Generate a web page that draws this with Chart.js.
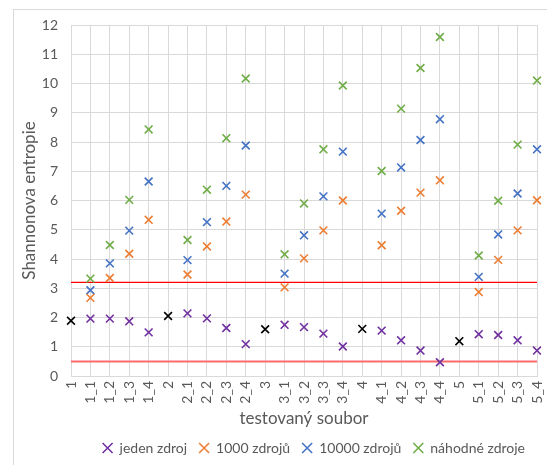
<!DOCTYPE html>
<html>
<head>
<meta charset="utf-8">
<script src="https://cdn.jsdelivr.net/npm/chart.js@4"></script>
<style>
  html, body { margin: 0; padding: 0; background: #fff; }
  #wrap { position: relative; width: 547px; height: 465px; }
  #frame { position: absolute; left: 13px; top: 9px; width: 600px; height: 500px; border: 1px solid #d9d9d9; }
  canvas { position: absolute; left: 0; top: 0; }
</style>
</head>
<body>
<div id="wrap">
  <div id="frame"></div>
  <canvas id="chart" width="547" height="465"></canvas>
</div>
<script>
const labels = ['1', '1_1', '1_2', '1_3', '1_4', '2', '2_1', '2_2', '2_3', '2_4',
  '3', '3_1', '3_2', '3_3', '3_4', '4', '4_1', '4_2', '4_3', '4_4',
  '5', '5_1', '5_2', '5_3', '5_4'];

// value of the whole file (black, not in legend)
const celySoubor = [1.89, null, null, null, null, 2.05, null, null, null, null,
  1.60, null, null, null, null, 1.61, null, null, null, null,
  1.19, null, null, null, null];

const jedenZdroj = [null, 1.96, 1.96, 1.87, 1.49, null, 2.14, 1.97, 1.64, 1.09,
  null, 1.75, 1.67, 1.45, 1.01, null, 1.55, 1.22, 0.87, 0.47,
  null, 1.43, 1.40, 1.22, 0.87];

const zdroju1000 = [null, 2.67, 3.35, 4.18, 5.34, null, 3.47, 4.43, 5.28, 6.20,
  null, 3.03, 4.02, 4.98, 6.00, null, 4.47, 5.65, 6.27, 6.69,
  null, 2.87, 3.97, 4.98, 6.01];

const zdroju10000 = [null, 2.93, 3.85, 4.97, 6.65, null, 3.96, 5.26, 6.50, 7.88,
  null, 3.50, 4.81, 6.14, 7.67, null, 5.55, 7.13, 8.07, 8.78,
  null, 3.39, 4.84, 6.24, 7.75];

const nahodneZdroje = [null, 3.33, 4.48, 6.02, 8.43, null, 4.65, 6.37, 8.13, 10.17,
  null, 4.16, 5.90, 7.75, 9.93, null, 7.01, 9.14, 10.53, 11.59,
  null, 4.12, 5.99, 7.91, 10.10];

// reference levels
const horniHranice = 3.2;
const dolniHranice = 0.5;

const yTicks = [0, 1, 2, 3, 4, 5, 6, 7, 8, 9, 10, 11, 12];

const font = "Lato, 'Liberation Sans', sans-serif";
const gray = '#595959';

function bod(label, data, color) {
  return {
    label: label,
    data: data,
    showLine: false,
    pointStyle: 'crossRot',
    pointRadius: 5.5,
    pointHoverRadius: 5.5,
    pointBorderWidth: 1.6,
    borderColor: color,
    backgroundColor: color
  };
}

function cara(value, color, width) {
  return {
    label: '_line',
    data: labels.map(() => value),
    borderColor: color,
    borderWidth: width,
    pointRadius: 0,
    pointHoverRadius: 0,
    fill: false,
    order: 10
  };
}

new Chart(document.getElementById('chart'), {
  type: 'line',
  data: {
    labels: labels,
    datasets: [
      bod('jeden zdroj', jedenZdroj, '#7030A0'),
      bod('1000 zdrojů', zdroju1000, '#ED7D31'),
      bod('10000 zdrojů', zdroju10000, '#4472C4'),
      bod('náhodné zdroje', nahodneZdroje, '#70AD47'),
      bod('_cely', celySoubor, '#000000'),
      cara(horniHranice, '#ff0000', 1.2),
      cara(dolniHranice, '#ff6b6b', 2)
    ]
  },
  options: {
    responsive: false,
    animation: false,
    layout: { padding: { left: 13, right: 10, top: 25, bottom: 0 } },
    scales: {
      x: {
        type: 'category',
        offset: false,
        afterFit: (axis) => { axis.height = 53; axis.paddingLeft = 0; axis.paddingRight = 0; },
        grid: { color: '#d9d9d9', drawTicks: false },
        border: { color: '#d9d9d9' },
        ticks: {
          color: gray,
          font: { family: font, size: 14 },
          minRotation: 90,
          maxRotation: 90,
          autoSkip: false,
          padding: 5
        },
        title: {
          display: true,
          text: 'testovaný soubor',
          color: gray,
          font: { family: font, size: 17 },
          padding: { top: 0, bottom: 0 }
        }
      },
      y: {
        min: 0,
        max: 12,
        afterBuildTicks: (axis) => { axis.ticks = yTicks.map(v => ({ value: v })); },
        afterFit: (axis) => { axis.width = 58; axis.paddingTop = 0; axis.paddingBottom = 0; },
        grid: { color: '#d9d9d9', drawTicks: false },
        border: { color: '#d9d9d9' },
        ticks: {
          color: gray,
          font: { family: font, size: 14 },
          padding: 13
        },
        title: {
          display: true,
          text: 'Shannonova entropie',
          color: gray,
          font: { family: font, size: 17 },
          padding: { top: 6, bottom: 0 }
        }
      }
    },
    plugins: {
      legend: {
        position: 'bottom',
        align: 'end',
        labels: {
          usePointStyle: true,
          pointStyle: 'crossRot',
          boxWidth: 10,
          boxHeight: 10,
          padding: 12,
          color: gray,
          font: { family: font, size: 14 },
          filter: (item) => !item.text.startsWith('_')
        }
      },
      tooltip: { enabled: false }
    }
  }
});
</script>
</body>
</html>
